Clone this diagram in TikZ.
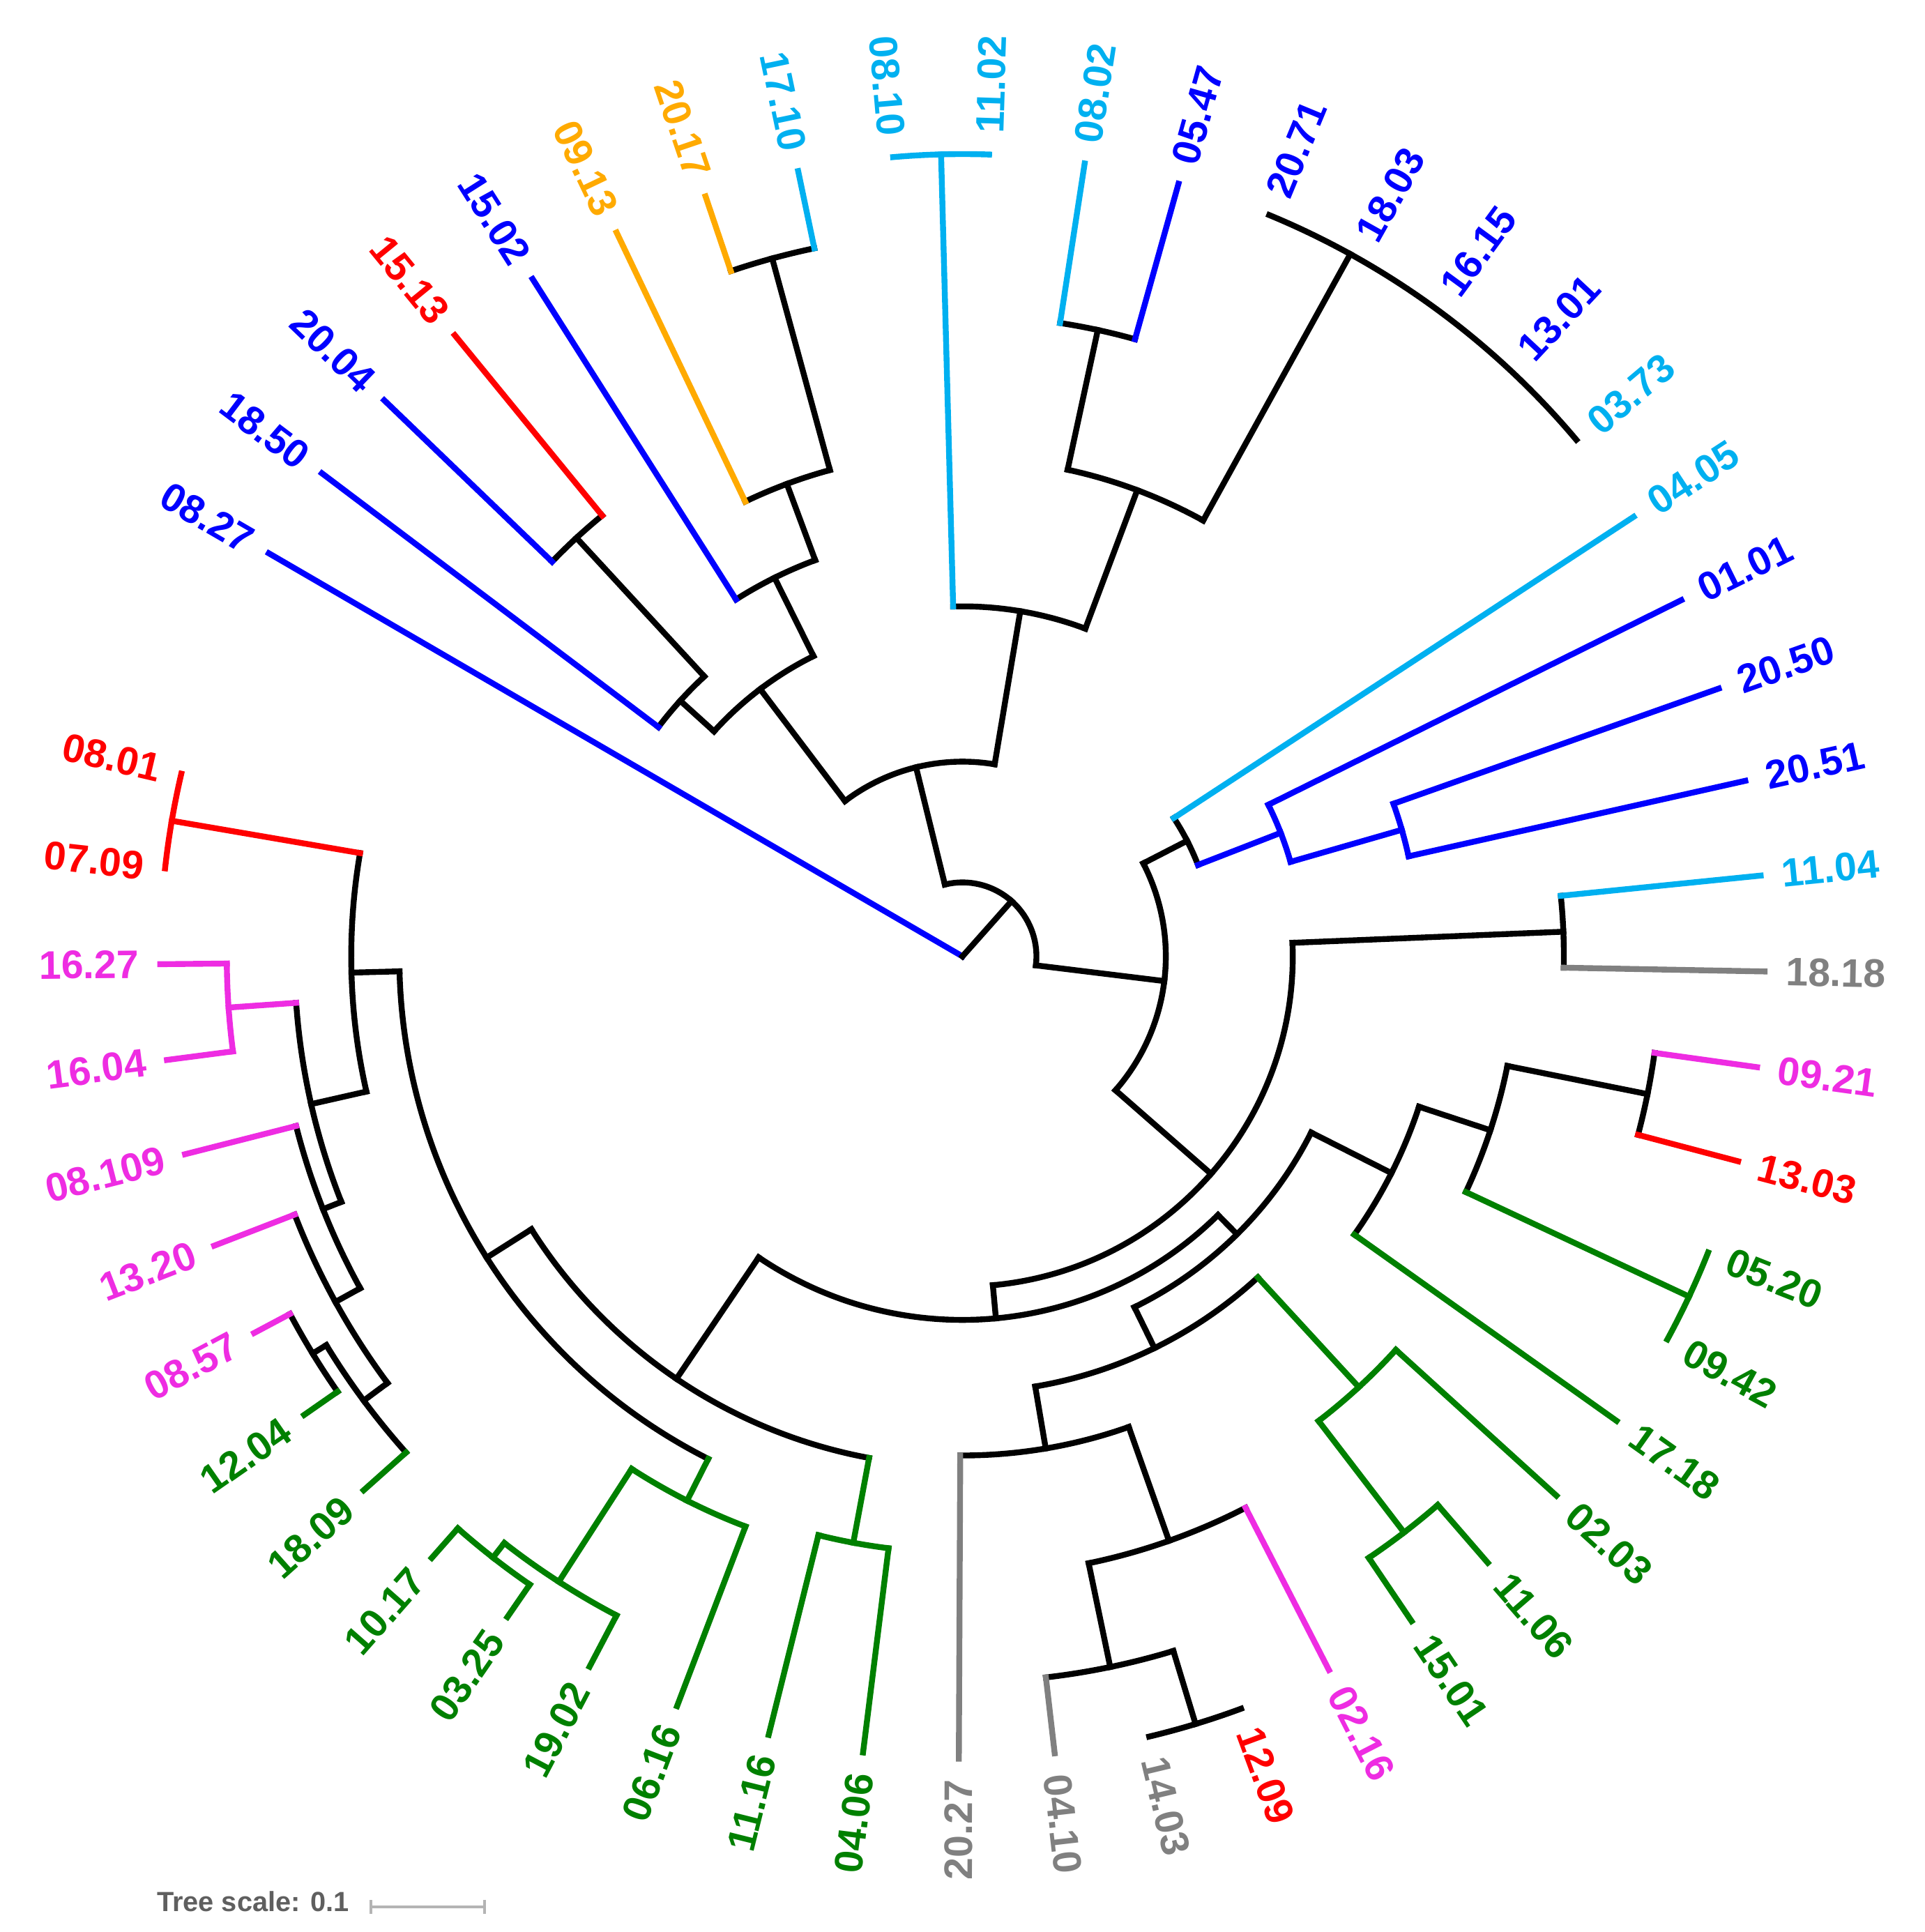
\documentclass[tikz,border=0pt]{standalone}
\usepackage{fontspec}
\setmainfont{Liberation Sans}
\definecolor{cblue}{RGB}{0,0,255}
\definecolor{ccyan}{RGB}{0,176,240}
\definecolor{corange}{RGB}{255,170,0}
\definecolor{cred}{RGB}{255,0,0}
\definecolor{cmag}{RGB}{238,44,226}
\definecolor{cgreen}{RGB}{0,128,0}
\definecolor{cgray}{RGB}{128,128,128}
\definecolor{sbtext}{RGB}{95,95,95}
\definecolor{sbbar}{RGB}{180,180,180}
% radial branch: colour, angle, inner radius, outer radius
\newcommand{\rad}[4]{\draw[#1] (#2:#3) -- (#2:#4);}
% node arc: colour, radius, start angle, end angle
\newcommand{\carc}[4]{\draw[#1] (#3:#2) arc[start angle=#3, end angle=#4, radius=#2];}
% leaf labels: name, angle, colour, text
\newcommand{\lbR}[4]{\node[lbl, text=#3, rotate=#2, anchor=west] (#1) at (#2:6.66) {#4};}
\newcommand{\lbL}[4]{\node[lbl, text=#3, rotate=#2+180, anchor=east] (#1) at (#2:6.66) {#4};}
\begin{document}
\begin{tikzpicture}[line width=1.35pt, line cap=rect,
  lbl/.style={font=\fontsize{9.2}{11}\selectfont\bfseries, inner sep=0pt}]
\useasboundingbox (-7.81,-7.9166) rectangle (7.81,7.76);
% ---- root and A
\rad{cblue}{149.84}{0}{6.51}
\rad{black}{48.41}{0}{0.60}
\carc{black}{0.60}{103.8}{-6.985}
\rad{black}{103.8}{0.60}{1.58}
\rad{black}{-6.985}{0.60}{1.65}
% ---- B
\carc{black}{1.58}{127.12}{80.49}
\rad{black}{127.12}{1.58}{2.72}
\rad{black}{80.49}{1.58}{2.84}
% B1
\carc{black}{2.72}{137.835}{116.40}
\rad{black}{137.835}{2.72}{3.09}
\rad{black}{116.40}{2.72}{3.43}
% B1a
\carc{black}{3.09}{142.98}{132.69}
\rad{cblue}{142.98}{3.09}{6.51}
\rad{black}{132.69}{3.09}{4.62}
% C1
\carc{black}{4.62}{136.12}{129.26}
\rad{cblue}{136.12}{4.62}{6.51}
\rad{cred}{129.26}{4.62}{6.51}
% B1b
\carc{black}{3.43}{122.40}{110.395}
\rad{cblue}{122.40}{3.43}{6.51}
\rad{black}{110.395}{3.43}{4.09}
% D
\carc{black}{4.09}{115.54}{105.25}
\rad{corange}{115.54}{4.09}{6.51}
\rad{black}{105.25}{4.09}{5.87}
% E
\carc{black}{5.87}{108.68}{101.82}
\rad{corange}{108.68}{5.87}{6.51}
\rad{ccyan}{101.82}{5.87}{6.51}
% B2
\carc{black}{2.84}{91.53}{69.45}
\rad{ccyan}{91.53}{2.84}{6.51}
\rad{black}{69.45}{2.84}{4.04}
\carc{ccyan}{6.51}{94.96}{88.10}
% G
\carc{black}{4.04}{77.81}{61.09}
\rad{black}{77.81}{4.04}{5.20}
\rad{black}{61.09}{4.04}{6.51}
% H
\carc{black}{5.20}{81.24}{74.38}
\rad{ccyan}{81.24}{5.20}{6.51}
\rad{cblue}{74.38}{5.20}{6.51}
% I
\carc{black}{6.51}{67.52}{40.08}
% ---- R
\carc{black}{1.65}{27.22}{-41.19}
\rad{black}{27.22}{1.65}{2.05}
\rad{black}{-41.19}{1.65}{2.68}
% S
\carc{black}{2.05}{33.22}{21.215}
\rad{ccyan}{33.22}{2.05}{6.51}
\rad{cblue}{21.215}{2.05}{2.77}
% U
\carc{cblue}{2.77}{26.36}{16.07}
\rad{cblue}{26.36}{2.77}{6.51}
\rad{cblue}{16.07}{2.77}{3.71}
% V
\carc{cblue}{3.71}{19.50}{12.64}
\rad{cblue}{19.50}{3.71}{6.51}
\rad{cblue}{12.64}{3.71}{6.51}
% T
\carc{black}{2.68}{2.35}{-84.725}
\rad{black}{2.35}{2.68}{4.88}
\rad{black}{-84.725}{2.68}{2.95}
% W
\carc{black}{4.88}{5.78}{-1.08}
\rad{ccyan}{5.78}{4.88}{6.51}
\rad{cgray}{-1.08}{4.88}{6.51}
% X
\carc{black}{2.95}{-45.35}{-124.1}
\rad{black}{-45.35}{2.95}{3.17}
\rad{black}{-124.1}{2.95}{4.14}
% Y
\carc{black}{3.17}{-26.805}{-63.89}
\rad{black}{-26.805}{3.17}{3.90}
\rad{black}{-63.89}{3.17}{3.54}
% Z
\carc{black}{3.90}{-18.23}{-35.38}
\rad{black}{-18.23}{3.90}{4.51}
\rad{cgreen}{-35.38}{3.90}{6.51}
% Z1
\carc{black}{4.51}{-11.37}{-25.09}
\rad{black}{-11.37}{4.51}{5.67}
\rad{cgreen}{-25.09}{4.51}{6.51}
\carc{cgreen}{6.51}{-21.66}{-28.52}
% Z2
\carc{black}{5.67}{-7.94}{-14.80}
\rad{cmag}{-7.94}{5.67}{6.51}
\rad{cred}{-14.80}{5.67}{6.51}
% Q
\carc{black}{3.54}{-47.385}{-80.40}
\rad{cgreen}{-47.385}{3.54}{4.75}
\rad{black}{-80.40}{3.54}{4.05}
% Q1
\carc{cgreen}{4.75}{-42.24}{-52.53}
\rad{cgreen}{-42.24}{4.75}{6.51}
\rad{cgreen}{-52.53}{4.75}{5.89}
% Q3
\carc{cgreen}{5.89}{-49.10}{-55.96}
\rad{cgreen}{-49.10}{5.89}{6.51}
\rad{cgreen}{-55.96}{5.89}{6.51}
% Q2
\carc{black}{4.05}{-70.54}{-90.26}
\rad{black}{-70.54}{4.05}{5.03}
\rad{cgray}{-90.26}{4.05}{6.51}
% Q4
\carc{black}{5.03}{-62.82}{-78.255}
\rad{cmag}{-62.82}{5.03}{6.51}
\rad{black}{-78.255}{5.03}{5.89}
% Q5
\carc{black}{5.89}{-73.11}{-83.40}
\rad{black}{-73.11}{5.89}{6.51}
\rad{cgray}{-83.40}{5.89}{6.51}
\carc{black}{6.51}{-69.68}{-76.54}
% X1
\carc{black}{4.14}{-100.55}{-147.66}
\rad{cgreen}{-100.55}{4.14}{4.84}
\rad{black}{-147.66}{4.14}{4.57}
% X3
\carc{cgreen}{4.84}{-97.12}{-103.98}
\rad{cgreen}{-97.12}{4.84}{6.51}
\rad{cgreen}{-103.98}{4.84}{6.51}
% X2
\carc{black}{4.57}{-116.84}{-178.475}
\rad{cgreen}{-116.84}{4.57}{4.95}
\rad{black}{-178.475}{4.57}{4.96}
% M
\carc{cgreen}{4.95}{-110.84}{-122.845}
\rad{cgreen}{-110.84}{4.95}{6.51}
\rad{cgreen}{-122.845}{4.95}{6.04}
% M1
\carc{cgreen}{6.04}{-117.70}{-127.99}
\rad{cgreen}{-117.70}{6.04}{6.51}
\rad{cgreen}{-127.99}{6.04}{6.19}
% M2
\carc{cgreen}{6.19}{-124.56}{-131.42}
\rad{cgreen}{-124.56}{6.19}{6.51}
\rad{cgreen}{-131.42}{6.19}{6.51}
% L
\carc{black}{4.96}{170.27}{192.78}
\rad{cred}{170.27}{4.96}{6.51}
\rad{black}{192.78}{4.96}{5.42}
\carc{cred}{6.51}{166.84}{173.70}
% L2
\carc{black}{5.42}{183.99}{201.57}
\rad{cmag}{183.99}{5.42}{5.97}
\rad{black}{201.57}{5.42}{5.58}
% L3
\carc{cmag}{5.97}{180.56}{187.42}
\rad{cmag}{180.56}{5.97}{6.51}
\rad{cmag}{187.42}{5.97}{6.51}
% L4
\carc{black}{5.58}{194.28}{208.86}
\rad{cmag}{194.28}{5.58}{6.51}
\rad{black}{208.86}{5.58}{5.81}
% L5
\carc{black}{5.81}{201.14}{216.575}
\rad{cmag}{201.14}{5.81}{6.51}
\rad{black}{216.575}{5.81}{6.05}
% L6
\carc{black}{6.05}{211.43}{221.72}
\rad{black}{211.43}{6.05}{6.18}
\rad{cgreen}{221.72}{6.05}{6.51}
% L7
\carc{black}{6.18}{208.00}{214.86}
\rad{cmag}{208.00}{6.18}{6.51}
\rad{cgreen}{214.86}{6.18}{6.51}
% ---- labels
\lbL{t0}{149.84}{cblue}{08.27}
\lbL{t1}{142.98}{cblue}{18.50}
\lbL{t2}{136.12}{cblue}{20.04}
\lbL{t3}{129.26}{cred}{15.13}
\lbL{t4}{122.40}{cblue}{15.02}
\lbL{t5}{115.54}{corange}{09.13}
\lbL{t6}{108.68}{corange}{20.17}
\lbL{t7}{101.82}{ccyan}{17.10}
\lbL{t8}{94.96}{ccyan}{08.10}
\lbR{t9}{88.10}{ccyan}{11.02}
\lbR{t10}{81.24}{ccyan}{08.02}
\lbR{t11}{74.38}{cblue}{05.47}
\lbR{t12}{67.52}{cblue}{20.71}
\lbR{t13}{60.66}{cblue}{18.03}
\lbR{t14}{53.80}{cblue}{16.15}
\lbR{t15}{46.94}{cblue}{13.01}
\lbR{t16}{40.08}{ccyan}{03.73}
\lbR{t17}{33.22}{ccyan}{04.05}
\lbR{t18}{26.36}{cblue}{01.01}
\lbR{t19}{19.50}{cblue}{20.50}
\lbR{t20}{12.64}{cblue}{20.51}
\lbR{t21}{5.78}{ccyan}{11.04}
\lbR{t22}{-1.08}{cgray}{18.18}
\lbR{t23}{-7.94}{cmag}{09.21}
\lbR{t24}{-14.80}{cred}{13.03}
\lbR{t25}{-21.66}{cgreen}{05.20}
\lbR{t26}{-28.52}{cgreen}{09.42}
\lbR{t27}{-35.38}{cgreen}{17.18}
\lbR{t28}{-42.24}{cgreen}{02.03}
\lbR{t29}{-49.10}{cgreen}{11.06}
\lbR{t30}{-55.96}{cgreen}{15.01}
\lbR{t31}{-62.82}{cmag}{02.16}
\lbR{t32}{-69.68}{cred}{12.09}
\lbR{t33}{-76.54}{cgray}{14.03}
\lbR{t34}{-83.40}{cgray}{04.10}
\lbL{t35}{-90.26}{cgray}{20.27}
\lbL{t36}{-97.12}{cgreen}{04.06}
\lbL{t37}{-103.98}{cgreen}{11.16}
\lbL{t38}{-110.84}{cgreen}{06.16}
\lbL{t39}{-117.70}{cgreen}{19.02}
\lbL{t40}{-124.56}{cgreen}{03.25}
\lbL{t41}{-131.42}{cgreen}{10.17}
\lbL{t42}{-138.28}{cgreen}{18.09}
\lbL{t43}{-145.14}{cgreen}{12.04}
\lbL{t44}{-152.00}{cmag}{08.57}
\lbL{t45}{-158.86}{cmag}{13.20}
\lbL{t46}{-165.72}{cmag}{08.109}
\lbL{t47}{-172.58}{cmag}{16.04}
\lbL{t48}{-179.44}{cmag}{16.27}
\lbL{t49}{-186.30}{cred}{07.09}
\lbL{t50}{-193.16}{cred}{08.01}
% ---- scale
\node[font=\fontsize{6.4}{8}\selectfont\bfseries, text=sbtext, anchor=west, inner sep=0pt] (ts) at (-6.56,-7.67) {Tree scale: 0.1};
\coordinate (sb1) at (-4.80,-7.714);
\coordinate (sb2) at (-3.88,-7.714);
\draw[sbbar, line width=0.6pt, line cap=butt] (sb1) -- (sb2);
\draw[sbbar, line width=0.6pt, line cap=butt] ([yshift=-0.055cm]sb1) -- ([yshift=0.055cm]sb1);
\draw[sbbar, line width=0.6pt, line cap=butt] ([yshift=-0.055cm]sb2) -- ([yshift=0.055cm]sb2);
\end{tikzpicture}
\end{document}
